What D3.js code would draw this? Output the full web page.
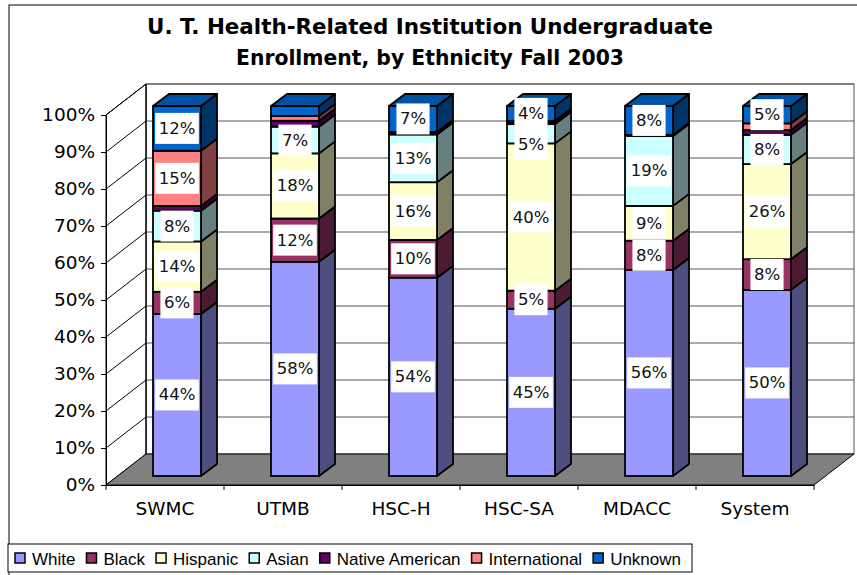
<!DOCTYPE html>
<html>
<head>
<meta charset="utf-8">
<script src="https://cdn.jsdelivr.net/npm/d3@7"></script>
<style>
  body { margin: 0; background: #fff; }
  svg { display: block; }
  .tick-label { font-family: "DejaVu Sans", Verdana, sans-serif; font-size: 18.5px; fill: #000; }
  .data-label { font-family: "DejaVu Sans", Verdana, sans-serif; font-size: 16.5px; fill: #111; }
  .legend-text { font-family: "Liberation Sans", Arial, sans-serif; font-size: 17px; fill: #000; }
</style>
</head>
<body>
<div id="chart"></div>
<script>
const categories = ['SWMC', 'UTMB', 'HSC-H', 'HSC-SA', 'MDACC', 'System']
const seriesNames = ['White', 'Black', 'Hispanic', 'Asian', 'Native American', 'International', 'Unknown']

// percent of enrollment
const white          = [43.8, 57.9, 53.6, 45.2, 55.7, 50.3]
const black          = [ 6.0, 11.7, 10.2,  4.9,  7.9,  8.3]
const hispanic       = [13.6, 17.6, 15.6, 39.8,  9.4, 25.7]
const asian          = [ 8.3,  7.2, 12.9,  5.2, 18.9,  7.9]
const nativeAmerican = [ 1.3,  1.6,  0.3,  0.4,  0.2,  1.3]
const international  = [14.9,  1.3,  0.4,  0.5,  0.1,  1.8]
const unknown        = [12.1,  2.7,  7.0,  4.0,  7.8,  4.7]

const yTicks = [0, 10, 20, 30, 40, 50, 60, 70, 80, 90, 100]
const titleLines = ['U. T. Health-Related Institution Undergraduate', 'Enrollment, by Ethnicity Fall 2003']

const seriesValues = [white, black, hispanic, asian, nativeAmerican, international, unknown]
const colors = ['#9999FF', '#993366', '#FFFFCC', '#CCFFFF', '#660066', '#FF8080', '#0066CC']

const width = 857
const height = 575
const floorLeft = 106, floorRight = 814, floorFront = 485, topY = 115
const depth = { dx: 40, dy: -31 }      // back wall offset
const barOffset = { dx: 12, dy: -9 }   // bar front plane offset
const barDepth = { dx: 16, dy: -12 }
const barWidth = 48

const svg = d3.select('#chart').append('svg')
  .attr('width', width)
  .attr('height', height)

// outer chart border
svg.append('rect')
  .attr('x', 9).attr('y', 5)
  .attr('width', 900).attr('height', 620)
  .attr('fill', '#fff')
  .attr('stroke', '#000')
  .attr('stroke-width', 1)

// title
svg.append('g').selectAll('text')
  .data(titleLines)
  .join('text')
  .attr('x', 430)
  .attr('y', (d, i) => 34 + i * 31)
  .attr('text-anchor', 'middle')
  .attr('font-family', '"DejaVu Sans", Verdana, sans-serif')
  .attr('font-weight', 'bold')
  .attr('font-size', 20.5)
  .attr('textLength', (d, i) => i === 0 ? 566 : 388)
  .attr('lengthAdjust', 'spacingAndGlyphs')
  .text(d => d)

const xScale = d3.scaleBand()
  .domain(categories)
  .range([floorLeft, floorRight])

const yScale = d3.scaleLinear()
  .domain([0, 100])
  .range([floorFront, topY])

const pts = arr => arr.map(p => p.join(',')).join(' ')

// back wall
const bx0 = floorLeft + depth.dx, bx1 = floorRight + depth.dx
svg.append('rect')
  .attr('x', bx0).attr('y', yScale(100) + depth.dy)
  .attr('width', bx1 - bx0).attr('height', yScale(0) - yScale(100))
  .attr('fill', '#fff')
  .attr('stroke', '#555')

// side wall
svg.append('polygon')
  .attr('points', pts([
    [floorLeft, yScale(0)], [floorLeft, yScale(100)],
    [bx0, yScale(100) + depth.dy], [bx0, yScale(0) + depth.dy]
  ]))
  .attr('fill', '#fff')
  .attr('stroke', '#000')

// gridlines on both walls
const grid = svg.append('g').attr('class', 'grid')
grid.selectAll('line.back')
  .data(yTicks.filter(t => t > 0))
  .join('line')
  .attr('class', 'back')
  .attr('x1', bx0).attr('x2', bx1)
  .attr('y1', d => yScale(d) + depth.dy)
  .attr('y2', d => yScale(d) + depth.dy)
  .attr('stroke', '#555')
grid.selectAll('line.side')
  .data(yTicks.filter(t => t > 0))
  .join('line')
  .attr('class', 'side')
  .attr('x1', floorLeft).attr('x2', bx0)
  .attr('y1', d => yScale(d))
  .attr('y2', d => yScale(d) + depth.dy)
  .attr('stroke', '#000')
svg.append('line')
  .attr('x1', bx0).attr('x2', bx0)
  .attr('y1', yScale(0) + depth.dy).attr('y2', yScale(100) + depth.dy)
  .attr('stroke', '#000')

// floor
svg.append('polygon')
  .attr('points', pts([
    [floorLeft, yScale(0)], [bx0, yScale(0) + depth.dy],
    [bx1, yScale(0) + depth.dy], [floorRight, yScale(0)]
  ]))
  .attr('fill', '#808080')
  .attr('stroke', '#000')

// y axis
const yAxis = g => g
  .attr('transform', `translate(${floorLeft},0)`)
  .call(d3.axisLeft(yScale).tickValues(yTicks).tickSize(5).tickPadding(6).tickFormat(d => d + '%'))
  .call(g => g.selectAll('text').attr('class', 'tick-label').attr('font-family', null).attr('font-size', null))
  .call(g => g.selectAll('line, path').attr('stroke', '#000'))

// x axis
const xAxis = g => g
  .attr('transform', `translate(0,${floorFront})`)
  .call(d3.axisBottom(xScale).tickSize(0).tickPadding(17))
  .call(g => g.selectAll('text').attr('class', 'tick-label').attr('font-family', null).attr('font-size', null))
  .call(g => g.select('.domain').attr('stroke', '#000'))
  .call(g => g.selectAll('.sep')
    .data(d3.range(categories.length + 1))
    .join('line')
    .attr('class', 'sep')
    .attr('x1', i => floorLeft + i * xScale.step())
    .attr('x2', i => floorLeft + i * xScale.step())
    .attr('y1', 0).attr('y2', 5)
    .attr('stroke', '#000'))

svg.append('g').call(yAxis)
svg.append('g').call(xAxis)

// stacked 3d bars
const stackData = categories.map((c, i) => {
  const row = { category: c }
  seriesNames.forEach((s, j) => { row[s] = seriesValues[j][i] })
  return row
})
const stacked = d3.stack().keys(seriesNames)(stackData)

const sideColor = c => { const r = d3.rgb(c); return d3.rgb(r.r * 0.5, r.g * 0.5, r.b * 0.5).formatHex() }
const topColor = c => { const r = d3.rgb(c); return d3.rgb(r.r * 0.8, r.g * 0.8, r.b * 0.8).formatHex() }

const barX = c => xScale(c) + xScale.bandwidth() / 2 - barWidth / 2 + barOffset.dx
const barY = v => yScale(v) + barOffset.dy

const bars = svg.append('g').attr('class', 'bars')
categories.forEach((c, ci) => {
  const g = bars.append('g')
  const x0 = barX(c), x1 = x0 + barWidth
  stacked.forEach((layer, si) => {
    const [lo, hi] = layer[ci]
    const yLo = barY(lo), yHi = barY(hi)
    g.append('polygon')
      .attr('points', pts([[x1, yLo], [x1, yHi], [x1 + barDepth.dx, yHi + barDepth.dy], [x1 + barDepth.dx, yLo + barDepth.dy]]))
      .attr('fill', sideColor(colors[si]))
      .attr('stroke', '#000').attr('stroke-width', 1.8).attr('stroke-linejoin', 'round')
    g.append('rect')
      .attr('x', x0).attr('y', yHi)
      .attr('width', barWidth).attr('height', yLo - yHi)
      .attr('fill', colors[si])
      .attr('stroke', '#000').attr('stroke-width', 1.8)
  })
  const topLayer = stacked[stacked.length - 1]
  const yTop = barY(topLayer[ci][1])
  g.append('polygon')
    .attr('points', pts([[x0, yTop], [x1, yTop], [x1 + barDepth.dx, yTop + barDepth.dy], [x0 + barDepth.dx, yTop + barDepth.dy]]))
    .attr('fill', topColor(colors[colors.length - 1]))
    .attr('stroke', '#000').attr('stroke-width', 1.8).attr('stroke-linejoin', 'round')
})

// data labels, pushed down a little when two boxes in one bar would collide
const boxH = 31
const labels = svg.append('g').attr('class', 'labels')
categories.forEach((c, ci) => {
  const cx = barX(c) + barWidth / 2
  let prevBottom = -Infinity
  for (let si = stacked.length - 1; si >= 0; si--) {
    const d = stacked[si][ci]
    const v = d[1] - d[0]
    if (v < 3.5) continue
    let cy = barY((d[0] + d[1]) / 2)
    if (cy - boxH / 2 < prevBottom) cy = prevBottom + boxH / 2
    prevBottom = cy + boxH / 2
    const lg = labels.append('g')
    const bg = lg.append('rect').attr('fill', '#fff')
    const t = lg.append('text')
      .attr('class', 'data-label')
      .attr('x', cx).attr('y', cy)
      .attr('text-anchor', 'middle')
      .attr('dominant-baseline', 'central')
      .text(Math.round(v) + '%')
    const w = t.node().getComputedTextLength() + 7
    bg.attr('x', cx - w / 2).attr('y', cy - boxH / 2).attr('width', w).attr('height', boxH)
  }
})

// legend
const legend = svg.append('g').attr('class', 'legend')
const legBox = legend.append('rect')
  .attr('x', 8).attr('y', 544).attr('height', 28)
  .attr('fill', '#fff').attr('stroke', '#000')
let lx = 15
seriesNames.forEach((s, i) => {
  legend.append('rect')
    .attr('x', lx).attr('y', 553)
    .attr('width', 10).attr('height', 10)
    .attr('fill', colors[i])
    .attr('stroke', '#000').attr('stroke-width', 1.5)
  const t = legend.append('text')
    .attr('class', 'legend-text')
    .attr('x', lx + 17).attr('y', 564.5)
    .text(s)
  lx += 17 + t.node().getComputedTextLength() + 11
})
legBox.attr('width', lx - 8)
</script>
</body>
</html>
